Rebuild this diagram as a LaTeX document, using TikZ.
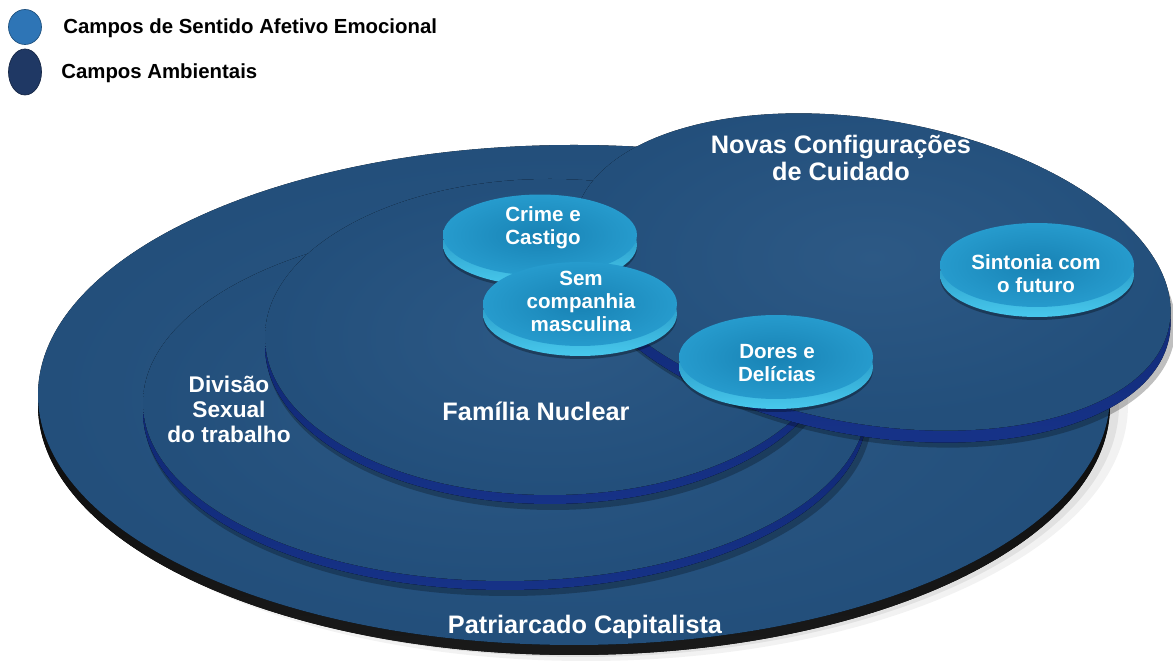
\documentclass[tikz,border=0pt]{standalone}
\usepackage{fontspec}
\setmainfont{Liberation Sans}
\usepackage{xcolor}
\usepackage{tikz}
\usetikzlibrary{shapes.geometric}
\usetikzlibrary{shadows}
\definecolor{campoazul}{RGB}{36,82,128}
\definecolor{aroazul}{RGB}{10,30,96}
\definecolor{arobrilho}{RGB}{22,50,135}
\definecolor{discotopo}{RGB}{24,130,180}
\definecolor{discoborda}{RGB}{38,155,205}
\definecolor{discoaro}{RGB}{72,200,236}
\definecolor{legclaro}{RGB}{46,117,182}
\definecolor{legescuro}{RGB}{31,56,100}
\tikzset{
	campo/.style={inner color=campoazul!96!white, outer color=campoazul!96!black},
	aro/.style={top color=aroazul, bottom color=arobrilho},
	aro preto/.style={top color=black, bottom color=black!90},
	sombra/.style={fill=black, opacity=0.25},
	disco/.style={ellipse, inner color=discotopo, outer color=discoborda,
		minimum width=3.88cm, minimum height=1.68cm, inner sep=0pt,
		general shadow={shadow yshift=-0.26cm, fill=black, opacity=0.3},
		general shadow={shadow yshift=-0.2cm, top color=discotopo, bottom color=discoaro}},
	rotulo/.style={text=white, align=center, font=\bfseries\fontsize{14.4}{15.4}\selectfont},
	rotulopeq/.style={text=white, align=center, font=\bfseries\fontsize{11.7}{13.1}\selectfont},
	legenda/.style={anchor=west, inner sep=0pt, font=\bfseries\fontsize{11.6}{13}\selectfont}
}

\begin{document}
\begin{tikzpicture}[x=0.02cm, y=0.02cm]
	\useasboundingbox (0,0) rectangle (1173,-661);
	% legenda
	\node[ellipse, fill=legclaro, draw=legclaro!70!black, minimum width=0.66cm, minimum height=0.7cm, inner sep=0pt] (legafetivo) at (25,-27) {};
	\node[ellipse, fill=legescuro, draw=legescuro!70!black, minimum width=0.66cm, minimum height=0.92cm, inner sep=0pt] (legambiente) at (25,-72) {};
	\node[legenda] (txtafetivo) at (63,-28) {Campos de Sentido Afetivo Emocional};
	\node[legenda] (txtambiente) at (61,-73) {Campos Ambientais};

	% Patriarcado Capitalista
	\fill[black, opacity=0.05] (586,-405) ellipse [x radius=542, y radius=256];
	\fill[black, opacity=0.07] (581,-405) ellipse [x radius=538, y radius=252];
	\fill[aro preto] (574,-405) ellipse [x radius=536, y radius=250];
	\fill[campo] (574,-395) ellipse [x radius=536, y radius=250];

	% Divisao Sexual do trabalho
	\fill[sombra] (508,-416) ellipse [x radius=364, y radius=180];
	\fill[aro] (505,-412) ellipse [x radius=362, y radius=178];
	\fill[campo] (505,-403) ellipse [x radius=362, y radius=178];

	% Familia Nuclear
	\fill[sombra] (553,-350) ellipse [x radius=287, y radius=160];
	\fill[aro] (550,-346) ellipse [x radius=285, y radius=158];
	\fill[campo] (550,-337) ellipse [x radius=285, y radius=158];

	% Novas Configuracoes de Cuidado
	\fill[sombra, rotate around={-10:(875,-287)}] (875,-287) ellipse [x radius=304, y radius=154];
	\fill[aro, rotate around={-10:(872,-284)}] (872,-284) ellipse [x radius=302, y radius=152];
	\fill[campo, rotate around={-10:(872,-272)}] (872,-272) ellipse [x radius=302, y radius=152];

	% campos afetivos
	\node[disco, minimum height=1.62cm] (crime) at (540,-235) {};
	\node[disco] (semcomp) at (580,-304) {};
	\node[disco] (dores) at (776,-357) {};
	\node[disco] (sintonia) at (1037,-265) {};

	\node[rotulopeq] (crimetxt) at (543,-228) {Crime e\\Castigo};
	\node[rotulopeq] (semcomptxt) at (581,-301) {Sem\\companhia\\masculina};
	\node[rotulopeq] (dorestxt) at (777,-363) {Dores e\\Del\'icias};
	\node[rotulopeq] (sintoniatxt) at (1036,-274) {Sintonia com\\o futuro};

	\node[rotulo] (novastxt) at (841,-158) {Novas Configura\c{c}\~oes\\de Cuidado};
	\node[rotulo] (familiatxt) at (536,-411) {Fam\'ilia Nuclear};
	\node[rotulo, font=\bfseries\fontsize{12.9}{14.2}\selectfont] (divisaotxt) at (229,-409) {Divis\~ao\\Sexual\\do trabalho};
	\node[rotulo] (patriarcadotxt) at (585,-627) {Patriarcado Capitalista};
\end{tikzpicture}
\end{document}
